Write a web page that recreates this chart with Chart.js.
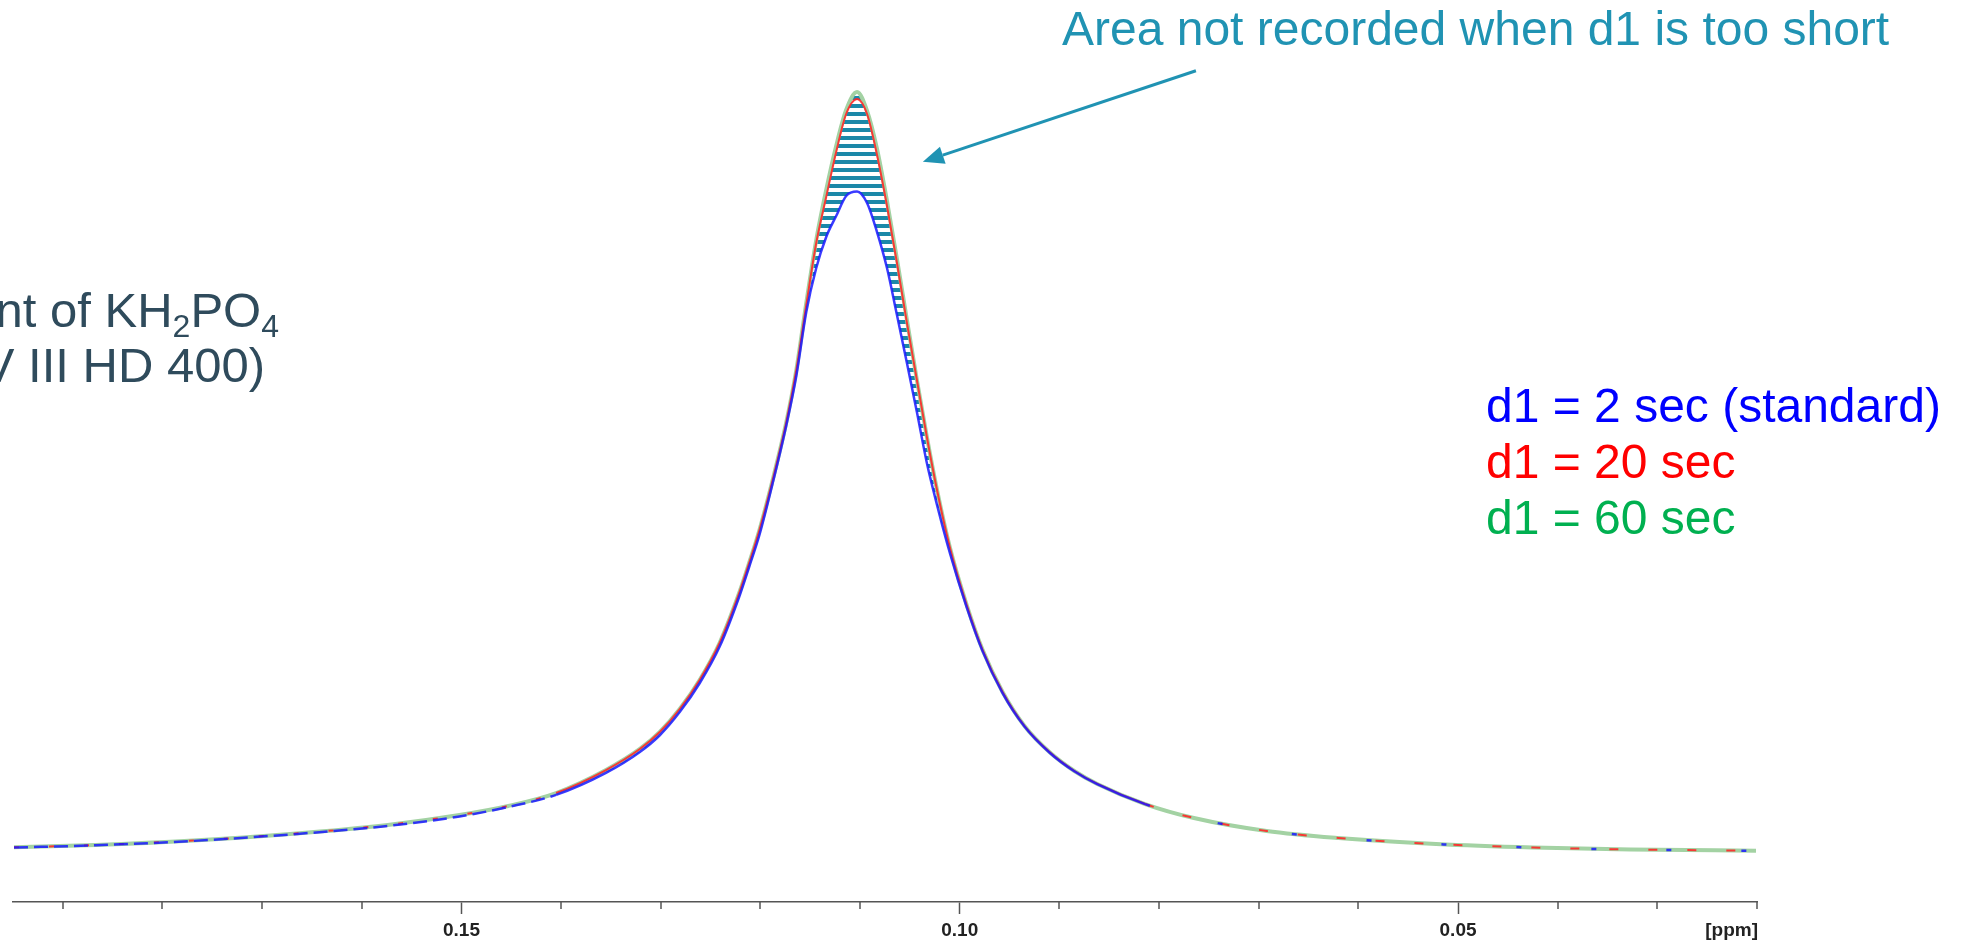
<!DOCTYPE html>
<html>
<head>
<meta charset="utf-8">
<script src="https://cdn.jsdelivr.net/npm/chart.js@4.4.0/dist/chart.umd.min.js"></script>
<style>
html,body{margin:0;padding:0;background:#fff;}
#wrap{position:relative;width:1963px;height:942px;}
</style>
</head>
<body>
<div id="wrap"><canvas id="c"></canvas></div>
<script>
// chemical shift (ppm), left to right as in the picture
const ppm = [0.1949, 0.1867, 0.1769, 0.1672, 0.1574, 0.1502, 0.1453, 0.1405, 0.1355, 0.1321,
             0.1301, 0.1281, 0.1261, 0.1241, 0.1221, 0.1211, 0.1201, 0.1188, 0.1174, 0.1164,
             0.1154, 0.1144, 0.1134, 0.1124, 0.1114, 0.1103, 0.1093, 0.1083, 0.1073, 0.1063,
             0.1053, 0.1043, 0.1033, 0.1023, 0.1010, 0.0993, 0.0977, 0.0957, 0.0935, 0.0910,
             0.0885, 0.0862, 0.0814, 0.0765, 0.0692, 0.0620, 0.0522, 0.0425, 0.0327, 0.0201];
// d1 = 2 sec (standard)
const d1_2s = [0.45, 0.75, 1.33, 2.18, 3.30, 4.55, 5.80, 7.40, 10.30, 13.05,
               15.25, 18.30, 22.10, 26.90, 33.60, 37.55, 41.63, 48.30, 56.10, 62.58,
               71.01, 76.81, 80.90, 83.66, 86.30, 86.89, 85.38, 81.55, 76.81, 70.62,
               64.30, 57.84, 51.12, 45.70, 39.30, 32.10, 26.30, 20.80, 16.40, 12.98,
               10.50, 8.80, 6.17, 4.33, 2.63, 1.70, 0.91, 0.45, 0.19, 0.03];
// d1 = 20 sec
const d1_20s = [0.49, 0.79, 1.38, 2.24, 3.43, 4.74, 5.93, 7.64, 10.67, 13.44,
                15.68, 18.71, 22.53, 27.40, 34.12, 38.08, 42.29, 48.75, 56.52, 63.37,
                71.94, 80.11, 86.17, 92.10, 97.10, 99.08, 97.10, 91.70, 84.98, 77.47,
                69.57, 62.06, 54.55, 47.69, 40.05, 32.41, 26.48, 20.95, 16.47, 13.04,
                10.54, 8.83, 6.19, 4.35, 2.64, 1.71, 0.92, 0.46, 0.20, 0.04];
// d1 = 60 sec
const d1_60s = [0.49, 0.79, 1.38, 2.24, 3.43, 4.74, 5.93, 7.64, 10.67, 13.44,
                15.68, 18.71, 22.53, 27.40, 34.12, 38.08, 42.29, 48.75, 56.52, 63.37,
                72.20, 80.50, 87.09, 92.89, 97.63, 100.0, 97.50, 92.49, 85.64, 78.00,
                69.96, 62.06, 54.55, 47.69, 40.05, 32.41, 26.48, 20.95, 16.47, 13.04,
                10.54, 8.83, 6.19, 4.35, 2.64, 1.71, 0.92, 0.46, 0.20, 0.04];
const seriesLabels = ['d1 = 2 sec (standard)', 'd1 = 20 sec', 'd1 = 60 sec'];
const seriesColors = ['#0000FF', '#FF0000', '#00B050'];
const majorTickValues = [0.15, 0.10, 0.05];
const axisUnit = '[ppm]';
const annotationText = 'Area not recorded when d1 is too short';
const arrowFrom = [0.0763, 102.8];
const arrowTo = [0.1037, 90.8];

const FONT = '"Liberation Sans", Arial, sans-serif';
const isMajor = v => majorTickValues.some(m => Math.abs(m - v) < 1e-6);

function hatch() {
  const c = document.createElement('canvas');
  c.width = 8; c.height = 8;
  const g = c.getContext('2d');
  g.fillStyle = '#1B88A8';
  g.fillRect(0, 0, 8, 4);
  return g.createPattern(c, 'repeat');
}

const pts = arr => arr.map((v, i) => ({x: ppm[i], y: v}));

const deco = {
  id: 'deco',
  afterDraw(chart) {
    const ctx = chart.ctx, xs = chart.scales.x, ys = chart.scales.y;
    ctx.save();
    // minor ticks
    ctx.strokeStyle = '#555'; ctx.lineWidth = 1.5;
    xs.ticks.forEach(t => {
      if (!isMajor(t.value)) {
        const px = Math.round(xs.getPixelForValue(t.value));
        ctx.beginPath(); ctx.moveTo(px, xs.top); ctx.lineTo(px, xs.top + 7); ctx.stroke();
      }
    });
    // unit label
    ctx.fillStyle = '#222';
    ctx.font = 'bold 19px ' + FONT;
    ctx.textAlign = 'right'; ctx.textBaseline = 'middle';
    ctx.fillText(axisUnit, xs.right + 1, xs.top + 12 + 7 + 9.5);

    // arrow
    const x0 = xs.getPixelForValue(arrowFrom[0]), y0 = ys.getPixelForValue(arrowFrom[1]);
    const x1 = xs.getPixelForValue(arrowTo[0]), y1 = ys.getPixelForValue(arrowTo[1]);
    const ang = Math.atan2(y1 - y0, x1 - x0);
    const hl = 21, hw = 9;
    const bx = x1 - hl * Math.cos(ang), by = y1 - hl * Math.sin(ang);
    ctx.strokeStyle = '#2093B3'; ctx.fillStyle = '#2093B3'; ctx.lineWidth = 3;
    ctx.beginPath(); ctx.moveTo(x0, y0); ctx.lineTo(bx, by); ctx.stroke();
    ctx.beginPath();
    ctx.moveTo(x1, y1);
    ctx.lineTo(bx + hw * Math.sin(ang), by - hw * Math.cos(ang));
    ctx.lineTo(bx - hw * Math.sin(ang), by + hw * Math.cos(ang));
    ctx.closePath(); ctx.fill();

    // annotation text
    ctx.textAlign = 'left'; ctx.textBaseline = 'alphabetic';
    ctx.font = '48px ' + FONT;
    ctx.fillStyle = '#2093B3';
    ctx.fillText(annotationText, 1062, 45);

    // legend
    seriesLabels.forEach((s, i) => {
      ctx.fillStyle = seriesColors[i];
      ctx.fillText(s, 1486, 422 + i * 56);
    });

    // left text (cropped)
    ctx.fillStyle = '#2F4B5C';
    const pieces = [['ent of KH', 49, 0], ['2', 32, 10], ['PO', 49, 0], ['4', 32, 10]];
    let w = 0;
    pieces.forEach(p => { ctx.font = p[1] + 'px ' + FONT; w += ctx.measureText(p[0]).width; });
    let x = 279 - w;
    pieces.forEach(p => {
      ctx.font = p[1] + 'px ' + FONT;
      ctx.fillText(p[0], x, 327 + p[2]);
      x += ctx.measureText(p[0]).width;
    });
    ctx.font = '49px ' + FONT;
    ctx.textAlign = 'right';
    ctx.fillText('V III HD 400)', 265, 382);
    ctx.restore();
  }
};

new Chart(document.getElementById('c'), {
  type: 'line',
  data: {
    datasets: [
      {
        label: seriesLabels[0], data: pts(d1_2s),
        borderColor: 'rgba(25,25,255,0.85)', borderWidth: 2.5, pointRadius: 0, fill: false,
        cubicInterpolationMode: 'monotone',
        segment: {
          borderDash: c => c.p0.parsed.x >= 0.145 ? [14, 6] : (c.p0.parsed.x <= 0.083 ? [5, 70] : undefined)
        }
      },
      {
        label: seriesLabels[1], data: pts(d1_20s),
        borderColor: 'rgba(255,40,40,0.9)', borderWidth: 2, pointRadius: 0, fill: false,
        cubicInterpolationMode: 'monotone',
        segment: {
          borderDash: c => c.p0.parsed.x >= 0.145 ? [5, 30] : (c.p0.parsed.x <= 0.083 ? [9, 30] : undefined)
        }
      },
      {
        label: seriesLabels[2], data: pts(d1_60s),
        borderColor: '#A3D2A3', borderWidth: 4, pointRadius: 0,
        cubicInterpolationMode: 'monotone',
        fill: {target: 0},
        backgroundColor: hatch()
      }
    ]
  },
  options: {
    responsive: true, maintainAspectRatio: false, animation: false,
    layout: {padding: {left: 13, right: 206, top: 0, bottom: 0}},
    plugins: {legend: {display: false}, tooltip: {enabled: false}},
    scales: {
      x: {
        type: 'linear', reverse: true, min: 0.02, max: 0.195,
        afterFit: s => { s.height = 40; },
        border: {display: true, color: '#555', width: 1.5},
        grid: {
          drawOnChartArea: false, drawTicks: true, tickLength: 12, tickWidth: 1.5,
          tickColor: c => (c.tick && isMajor(c.tick.value)) ? '#555' : 'rgba(0,0,0,0)'
        },
        ticks: {
          stepSize: 0.01, includeBounds: false, autoSkip: false, maxRotation: 0, padding: 7,
          color: '#222', font: {family: FONT, size: 19, weight: 'bold', lineHeight: 1},
          callback: v => isMajor(v) ? v.toFixed(2) : ''
        }
      },
      y: {type: 'linear', display: false, min: -6.72, max: 112.12}
    }
  },
  plugins: [deco]
});
</script>
</body>
</html>
